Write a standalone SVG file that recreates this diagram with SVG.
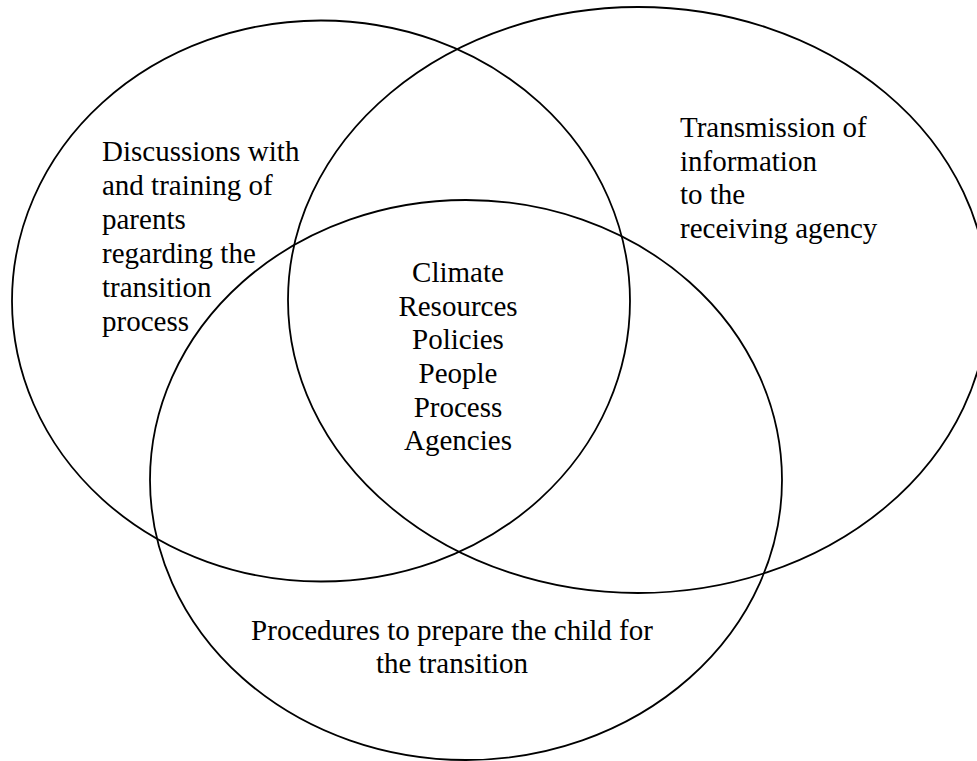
<svg xmlns="http://www.w3.org/2000/svg" width="977" height="761" viewBox="0 0 977 761">
<style>
.c{fill:none;stroke:#000;stroke-width:1.8}
.t{font-family:"Liberation Serif","Times New Roman",serif;font-size:29px;fill:#000}
.m{text-anchor:middle}
</style>
<rect width="977" height="761" fill="#fff"/>
<g id="left">
<ellipse class="c" cx="321" cy="301" rx="309" ry="280.5"/>
<text class="t" x="102"><tspan x="102" y="161">Discussions with</tspan><tspan x="102" y="195">and training of</tspan><tspan x="102" y="229">parents</tspan><tspan x="102" y="263">regarding the</tspan><tspan x="102" y="297">transition</tspan><tspan x="102" y="331">process</tspan></text>
</g>
<g id="right">
<ellipse class="c" cx="638" cy="300" rx="350" ry="293"/>
<text class="t"><tspan x="680" y="137">Transmission of</tspan><tspan x="680" y="171">information</tspan><tspan x="680" y="204">to the</tspan><tspan x="680" y="238">receiving agency</tspan></text>
</g>
<g id="bottom">
<ellipse class="c" cx="466" cy="480" rx="316" ry="280"/>
<text class="t m"><tspan x="452" y="640">Procedures to prepare the child for</tspan><tspan x="452" y="673">the transition</tspan></text>
</g>
<g id="center">
<text class="t m"><tspan x="458" y="282">Climate</tspan><tspan x="458" y="315.5">Resources</tspan><tspan x="458" y="349">Policies</tspan><tspan x="458" y="382.5">People</tspan><tspan x="458" y="416.5">Process</tspan><tspan x="458" y="450">Agencies</tspan></text>
</g>
<g id="connectors"/>
</svg>
